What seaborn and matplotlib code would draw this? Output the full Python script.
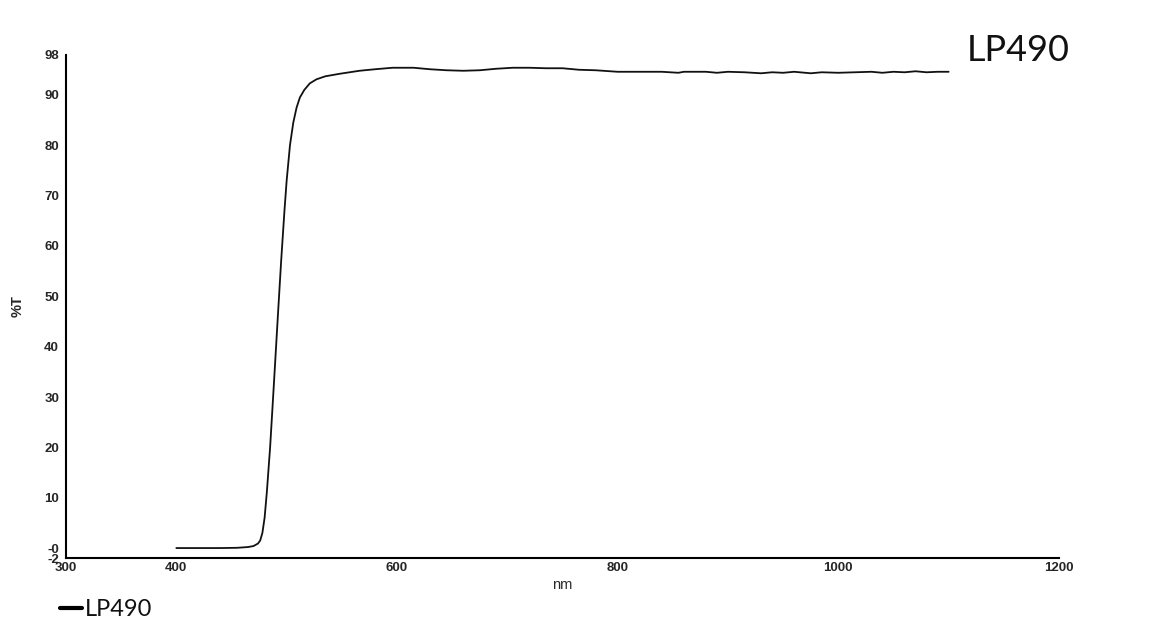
import numpy as np
import pandas as pd
import matplotlib
matplotlib.use("Agg")
import matplotlib.pyplot as plt
import seaborn as sns

# values
wavelength = [400, 420, 440, 455, 465, 470, 474, 476, 478, 480, 482, 485, 488, 492,
              495, 498, 500, 503, 506, 509, 512, 516, 521, 527, 535, 548, 566, 580,
              596, 615, 630, 645, 660, 675, 690, 705, 720, 735, 750, 765, 780, 800,
              820, 840, 855, 860, 880, 890, 900, 915, 930, 940, 950, 960, 975, 985,
              1000, 1015, 1030, 1040, 1050, 1060, 1070, 1080, 1090, 1100]
transmission = [0.0, 0.0, 0.0, 0.05, 0.2, 0.4, 0.9, 1.5, 3.0, 6.0, 11.0, 20.0, 31.0, 46.0,
                57.0, 67.0, 73.0, 80.0, 84.5, 87.5, 89.5, 91.0, 92.3, 93.1, 93.7, 94.2, 94.8, 95.1,
                95.4, 95.4, 95.1, 94.9, 94.8, 94.9, 95.2, 95.4, 95.4, 95.3, 95.3, 95.0, 94.9, 94.6,
                94.6, 94.6, 94.4, 94.6, 94.6, 94.4, 94.6, 94.5, 94.3, 94.5, 94.4, 94.6, 94.3, 94.5,
                94.4, 94.5, 94.6, 94.4, 94.6, 94.5, 94.7, 94.5, 94.6, 94.6]
series_name = "LP490"

x_ticks = [300, 400, 600, 800, 1000, 1200]
y_ticks = [-2, 0, 10, 20, 30, 40, 50, 60, 70, 80, 90, 98]
y_tick_labels = ["-2", "-0", "10", "20", "30", "40", "50", "60", "70", "80", "90", "98"]

df = pd.DataFrame({"nm": wavelength, "T": transmission})

sns.set_style("white")
plt.rcParams["font.family"] = ["Liberation Sans", "DejaVu Sans"]

fig = plt.figure(figsize=(11.6, 6.43), dpi=100)
ax = fig.add_axes([0.0569, 0.132, 0.856, 0.783])

sns.lineplot(data=df, x="nm", y="T", color="#111111", linewidth=1.3, ax=ax, legend=False)

ax.set_xlim(300, 1200)
ax.set_ylim(-2, 98)
ax.set_xticks(x_ticks)
ax.set_yticks(y_ticks)
ax.set_yticklabels(y_tick_labels)
ax.tick_params(axis="y", direction="out", length=4, width=1, pad=1, labelsize=9.5)
ax.tick_params(axis="x", direction="in", length=3, width=1, pad=3, labelsize=9.5)
for lbl in ax.get_xticklabels() + ax.get_yticklabels():
    lbl.set_fontweight("bold")

ax.set_xlabel("nm", fontsize=10.5, labelpad=3)
ax.set_ylabel("%T", fontsize=10.5, fontweight="bold", labelpad=14)

for side in ["top", "right"]:
    ax.spines[side].set_visible(False)
for side in ["left", "bottom"]:
    ax.spines[side].set_color("black")
    ax.spines[side].set_linewidth(1.5)

# title label at top right
fig.text(0.833, 0.922, series_name, fontsize=26, family="Lato", color="#111111",
         ha="left", va="center")

# legend entry at bottom left
fig.add_artist(plt.Line2D([0.052, 0.071], [0.054, 0.054], color="black", linewidth=3))
fig.text(0.073, 0.052, series_name, fontsize=17, family="Lato", color="#111111",
         ha="left", va="center")

fig.savefig("out.png", dpi=100, facecolor="white")
